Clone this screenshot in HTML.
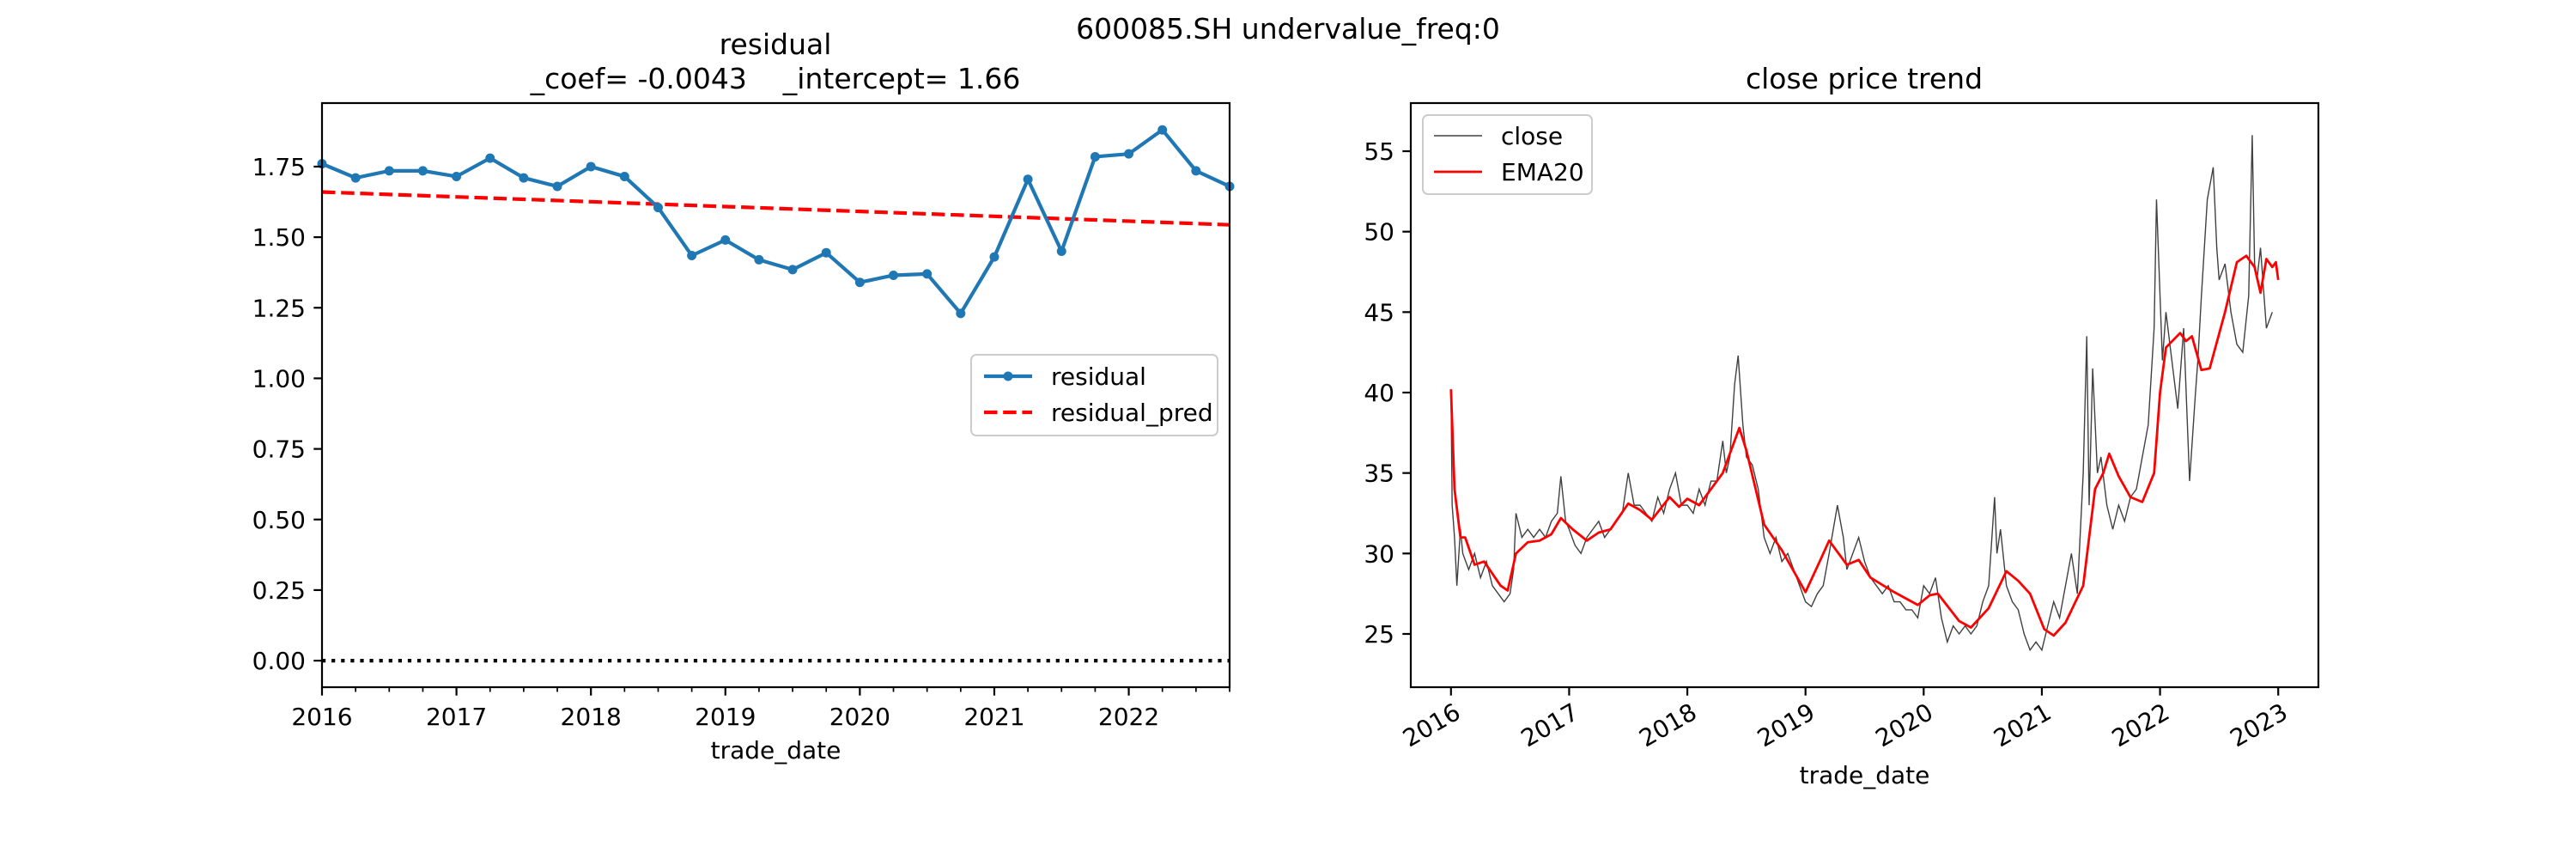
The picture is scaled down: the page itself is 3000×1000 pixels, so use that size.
<!DOCTYPE html>
<html><head><meta charset="utf-8"><style>
html,body{margin:0;padding:0;background:#fff;}
svg{display:block;font-family:"DejaVu Sans","Liberation Sans",sans-serif;}
</style></head><body>
<svg id="fig" width="3000" height="1000" viewBox="0 0 3000 1000" xmlns="http://www.w3.org/2000/svg">
<rect width="3000" height="1000" fill="#fff"/>
<text x="1500" y="45" font-size="33" text-anchor="middle">600085.SH undervalue_freq:0</text>
<text x="903" y="63" font-size="33" text-anchor="middle">residual</text>
<text x="903" y="103" font-size="33" text-anchor="middle" style="white-space:pre" xml:space="preserve">_coef= -0.0043    _intercept= 1.66</text>
<text x="2171" y="103" font-size="33" text-anchor="middle">close price trend</text>
<g id="left"></g>
<g id="right"></g>
</svg>
<script>
// ---- left chart data ----
const resDates = [2016.0,2016.25,2016.5,2016.75,2017.0,2017.25,2017.5,2017.75,2018.0,2018.25,2018.5,2018.75,2019.0,2019.25,2019.5,2019.75,2020.0,2020.25,2020.5,2020.75,2021.0,2021.25,2021.5,2021.75,2022.0,2022.25,2022.5,2022.75];
const resValues = [1.76,1.71,1.735,1.735,1.715,1.78,1.71,1.68,1.75,1.715,1.605,1.435,1.49,1.42,1.385,1.445,1.34,1.365,1.37,1.23,1.43,1.705,1.45,1.785,1.795,1.88,1.735,1.68];
const predIntercept = 1.66;
const predCoef = -0.0043;
const leftYTicks = [0,0.25,0.5,0.75,1.0,1.25,1.5,1.75];
const leftYTickLabels = ["0.00","0.25","0.50","0.75","1.00","1.25","1.50","1.75"];
const leftXTicks = [2016,2017,2018,2019,2020,2021,2022];
// ---- right chart data ----
const closeDates = [2016.0,2016.01,2016.03,2016.05,2016.08,2016.1,2016.15,2016.2,2016.25,2016.3,2016.35,2016.4,2016.45,2016.5,2016.53,2016.55,2016.6,2016.65,2016.7,2016.75,2016.8,2016.85,2016.9,2016.93,2016.97,2017.0,2017.05,2017.1,2017.15,2017.2,2017.25,2017.3,2017.35,2017.4,2017.45,2017.5,2017.55,2017.6,2017.65,2017.7,2017.75,2017.8,2017.85,2017.9,2017.95,2018.0,2018.05,2018.1,2018.15,2018.2,2018.25,2018.3,2018.33,2018.36,2018.4,2018.43,2018.47,2018.5,2018.55,2018.6,2018.65,2018.7,2018.75,2018.8,2018.85,2018.9,2018.95,2019.0,2019.05,2019.1,2019.15,2019.2,2019.27,2019.32,2019.35,2019.4,2019.45,2019.5,2019.55,2019.6,2019.65,2019.7,2019.75,2019.8,2019.85,2019.9,2019.95,2020.0,2020.05,2020.1,2020.15,2020.2,2020.25,2020.3,2020.35,2020.4,2020.45,2020.5,2020.55,2020.6,2020.62,2020.65,2020.7,2020.75,2020.8,2020.85,2020.9,2020.95,2021.0,2021.05,2021.1,2021.15,2021.2,2021.25,2021.3,2021.35,2021.38,2021.4,2021.43,2021.47,2021.5,2021.55,2021.6,2021.65,2021.7,2021.75,2021.8,2021.85,2021.9,2021.95,2021.97,2022.0,2022.02,2022.05,2022.1,2022.15,2022.2,2022.25,2022.3,2022.32,2022.35,2022.4,2022.45,2022.48,2022.5,2022.55,2022.6,2022.65,2022.7,2022.75,2022.78,2022.8,2022.82,2022.85,2022.9,2022.95,2022.98,2023.0];
const closeValues = [40.2,33,31,28,31.5,30,29,30,28.5,29.5,28,27.5,27,27.5,29,32.5,31,31.5,31,31.5,31,32,32.5,34.8,32,31.5,30.5,30,31,31.5,32,31,31.5,32,32.5,35,33,33,32.5,32,33.5,32.5,34,35,33,33,32.5,34,33,34.5,34.5,37,35,36,40.5,42.3,38,36,35.5,34,31,30,31,29.5,30,29,28,27,26.7,27.5,28,30,33,31,29,30,31,29.5,28.5,28,27.5,28,27,27,26.5,26.5,26,28,27.5,28.5,26,24.5,25.5,25,25.5,25,25.5,27,28,33.5,30,31.5,28,27,26.5,25,24,24.5,24,25.5,27,26,28,30,27.5,35,43.5,33,41.5,35,36,33,31.5,33,32,33.5,34,36,38,44,52,46,42,45,42,39,44,34.5,40,42,46,52,54,49,47,48,45,43,42.5,46,56,48,47,49,44,45];
const emaDates = [2016.0,2016.03,2016.08,2016.12,2016.2,2016.28,2016.42,2016.48,2016.55,2016.65,2016.75,2016.85,2016.93,2017.03,2017.15,2017.25,2017.35,2017.5,2017.6,2017.7,2017.85,2017.93,2018.0,2018.1,2018.25,2018.3,2018.44,2018.5,2018.65,2018.8,2019.0,2019.12,2019.2,2019.35,2019.45,2019.55,2019.75,2019.95,2020.05,2020.12,2020.3,2020.4,2020.55,2020.7,2020.8,2020.9,2021.02,2021.1,2021.2,2021.35,2021.45,2021.52,2021.57,2021.65,2021.75,2021.85,2021.95,2022.0,2022.05,2022.17,2022.22,2022.27,2022.35,2022.42,2022.55,2022.65,2022.73,2022.8,2022.85,2022.9,2022.95,2022.98,2023.0];
const emaValues = [40.2,34,31,31,29.3,29.5,28,27.7,30,30.7,30.8,31.2,32.2,31.5,30.8,31.3,31.5,33.1,32.7,32.1,33.5,32.9,33.4,33,34.5,35,37.8,36.4,31.8,30.2,27.6,29.5,30.8,29.3,29.6,28.5,27.6,26.8,27.4,27.5,25.8,25.4,26.6,28.9,28.3,27.5,25.3,24.9,25.7,28,34,35,36.2,34.8,33.5,33.2,35,40,42.8,43.7,43.2,43.5,41.4,41.5,45,48.1,48.5,47.8,46.2,48.3,47.8,48.1,47];
const rightYTicks = [25,30,35,40,45,50,55];
const rightXTicks = [2016,2017,2018,2019,2020,2021,2022,2023];

const NS="http://www.w3.org/2000/svg";
function mk(parent,tag,attrs){const e=document.createElementNS(NS,tag);for(const k in attrs)e.setAttribute(k,attrs[k]);parent.appendChild(e);return e;}

// ---------- LEFT ----------
const L=document.getElementById('left');
const lx0=375,lx1=1432,ly0=120,ly1=800;
const lxMin=2016,lxMax=2022.75,lyMin=-0.094,lyMax=1.975;
const lX=v=>lx0+(v-lxMin)/(lxMax-lxMin)*(lx1-lx0);
const lY=v=>ly1-(v-lyMin)/(lyMax-lyMin)*(ly1-ly0);
let zl=mk(L,'line',{x1:lx0,x2:lx1,y1:lY(0),y2:lY(0),stroke:'#000','stroke-width':4.2,'stroke-dasharray':'4.2 6.9'});


let pp=mk(L,'polyline',{points:resDates.map((d,i)=>lX(d)+','+lY(predIntercept+predCoef*i)).join(' '),fill:'none',stroke:'#ff0000','stroke-width':4.2,'stroke-dasharray':'15.5 6.7'});


let rl=mk(L,'polyline',{points:resDates.map((d,i)=>lX(d)+','+lY(resValues[i])).join(' '),fill:'none',stroke:'#1f77b4','stroke-width':4.2,'stroke-linejoin':'round'});


resDates.forEach((d,i)=>{const c=mk(L,'circle',{cx:lX(d),cy:lY(resValues[i]),r:5.5,fill:'#1f77b4'});

});
let lf=mk(L,'rect',{x:lx0,y:ly0,width:lx1-lx0,height:ly1-ly0,fill:'none',stroke:'#000','stroke-width':2.2});


leftYTicks.forEach((v,i)=>{mk(L,'line',{x1:lx0-9.7,x2:lx0,y1:lY(v),y2:lY(v),stroke:'#000','stroke-width':2.2});
const t=mk(L,'text',{x:lx0-19,y:lY(v)+10,'font-size':28,'text-anchor':'end'});t.textContent=leftYTickLabels[i];

});
for(let q=lxMin;q<=lxMax+1e-9;q+=0.25){const major=Math.abs(q-Math.round(q))<1e-9;
mk(L,'line',{x1:lX(q),x2:lX(q),y1:ly1,y2:ly1+(major?9.7:5.5),stroke:'#000','stroke-width':major?2.2:1.7});}
leftXTicks.forEach(v=>{const t=mk(L,'text',{x:lX(v),y:ly1+44,'font-size':28,'text-anchor':'middle'});t.textContent=v;

});
let lxl=mk(L,'text',{x:(lx0+lx1)/2,y:883,'font-size':28,'text-anchor':'middle'});lxl.textContent='trade_date';


// legend
const lg=mk(L,'g',{});


mk(lg,'rect',{x:1131,y:413,width:287,height:94,rx:6,fill:'#fff','fill-opacity':0.8,stroke:'#ccc','stroke-width':2});
mk(lg,'line',{x1:1146,x2:1202,y1:438,y2:438,stroke:'#1f77b4','stroke-width':4.2});
mk(lg,'circle',{cx:1174,cy:438,r:5.5,fill:'#1f77b4'});
let t1=mk(lg,'text',{x:1224,y:448,'font-size':28});t1.textContent='residual';
mk(lg,'line',{x1:1146,x2:1202,y1:480,y2:480,stroke:'#ff0000','stroke-width':4.2,'stroke-dasharray':'15.5 6.7'});
let t2=mk(lg,'text',{x:1224,y:490,'font-size':28});t2.textContent='residual_pred';

// ---------- RIGHT ----------
const R=document.getElementById('right');
const rx0=1643,rx1=2700,ry0=120,ry1=800;
const rxMin=2015.66,rxMax=2023.34,ryMin=21.69,ryMax=57.99;
const rX=v=>rx0+(v-rxMin)/(rxMax-rxMin)*(rx1-rx0);
const rY=v=>ry1-(v-ryMin)/(ryMax-ryMin)*(ry1-ry0);
let cl=mk(R,'polyline',{points:closeDates.map((d,i)=>rX(d)+','+rY(closeValues[i])).join(' '),fill:'none',stroke:'#000','stroke-opacity':0.75,'stroke-width':1.4});


let el=mk(R,'polyline',{points:emaDates.map((d,i)=>rX(d)+','+rY(emaValues[i])).join(' '),fill:'none',stroke:'#ff0000','stroke-width':2.8,'stroke-linejoin':'round'});


let rf=mk(R,'rect',{x:rx0,y:ry0,width:rx1-rx0,height:ry1-ry0,fill:'none',stroke:'#000','stroke-width':2.2});


rightYTicks.forEach(v=>{mk(R,'line',{x1:rx0-9.7,x2:rx0,y1:rY(v),y2:rY(v),stroke:'#000','stroke-width':2.2});
const t=mk(R,'text',{x:rx0-19,y:rY(v)+10,'font-size':28,'text-anchor':'end'});t.textContent=v;

});
rightXTicks.forEach(v=>{mk(R,'line',{x1:rX(v),x2:rX(v),y1:ry1,y2:ry1+9.7,stroke:'#000','stroke-width':2.2});
const x=rX(v)+8,y=ry1+36;
const t=mk(R,'text',{x:x,y:y,'font-size':28,'text-anchor':'end',transform:`rotate(-30 ${x} ${y-10})`});t.textContent=v;

});
let rxl=mk(R,'text',{x:(rx0+rx1)/2,y:912,'font-size':28,'text-anchor':'middle'});rxl.textContent='trade_date';


const rg=mk(R,'g',{});


mk(rg,'rect',{x:1657,y:134,width:197,height:92,rx:6,fill:'#fff','fill-opacity':0.8,stroke:'#ccc','stroke-width':2});
mk(rg,'line',{x1:1670,x2:1726,y1:158,y2:158,stroke:'#000','stroke-opacity':0.75,'stroke-width':1.4});
let t3=mk(rg,'text',{x:1748,y:168,'font-size':28});t3.textContent='close';
mk(rg,'line',{x1:1670,x2:1726,y1:200,y2:200,stroke:'#ff0000','stroke-width':2.8});
let t4=mk(rg,'text',{x:1748,y:210,'font-size':28});t4.textContent='EMA20';
</script>
</body></html>
